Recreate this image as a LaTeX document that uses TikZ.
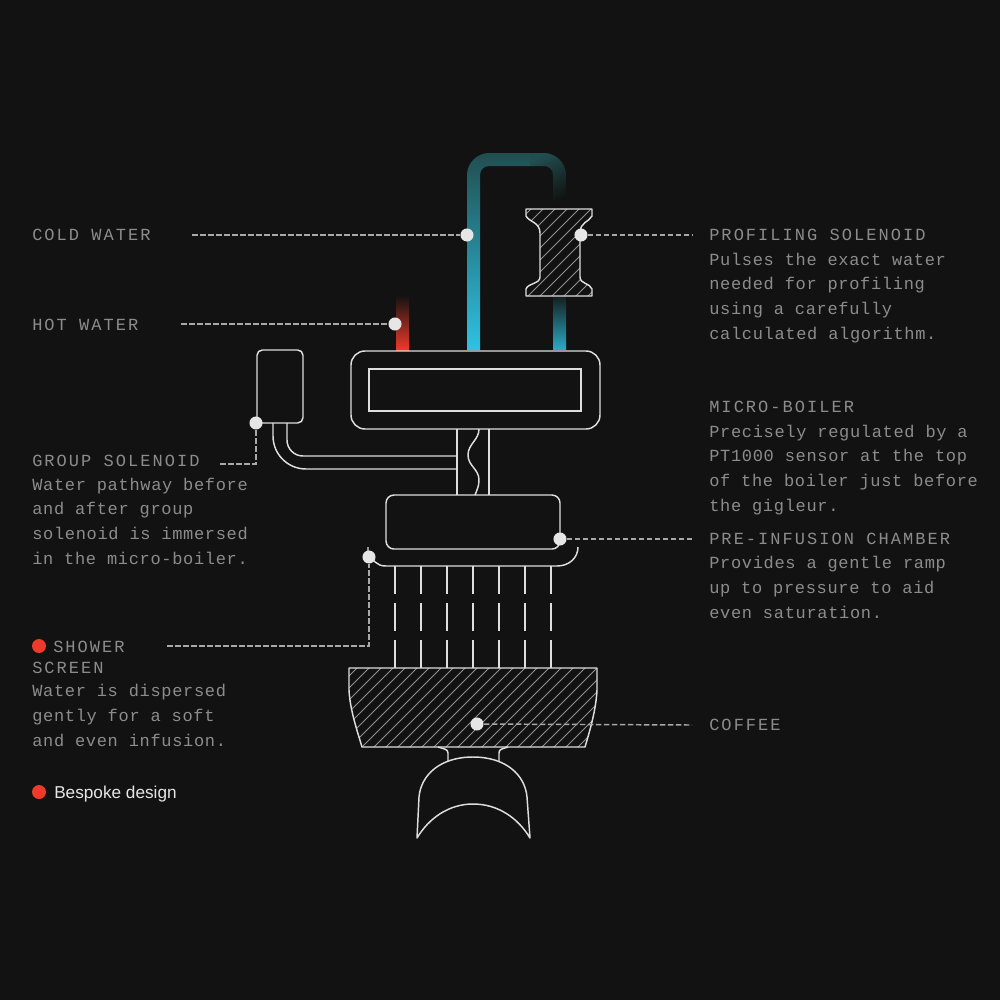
\documentclass[tikz,border=0pt]{standalone}
\usepackage{fontspec}
\setmainfont{Liberation Sans}
\newfontfamily\headfont[LetterSpace=12]{Liberation Mono}
\newfontfamily\bodyfont[LetterSpace=4]{Liberation Mono}
\definecolor{bg}{HTML}{121212}
\definecolor{linecol}{HTML}{DEDEDE}
\definecolor{hatchcol}{HTML}{909090}
\definecolor{txt}{HTML}{8C8C8C}
\definecolor{lead}{HTML}{A8A8A8}
\definecolor{dotcol}{HTML}{E6E6E6}
\definecolor{redc}{HTML}{EE3A2A}
\definecolor{cyanc}{HTML}{2FC2E3}
\definecolor{cyanb}{HTML}{2AA9C4}
\definecolor{teal}{HTML}{214E50}
\tikzset{
  outline/.style={draw=linecol,line width=1.1pt},
  hatchline/.style={draw=hatchcol,line width=0.75pt},
  leader/.style={draw=lead,line width=1.1pt,dash pattern=on 4.2pt off 1.8pt},
  dotmark/.style={circle,fill=dotcol,draw=none,minimum size=9.8pt,inner sep=0pt},
  reddot/.style={circle,fill=redc,draw=none,minimum size=10.5pt,inner sep=0pt},
  head/.style={anchor=base west,inner sep=0pt,text=txt,font=\headfont\fontsize{12.75pt}{16pt}\selectfont},
  body/.style={anchor=base west,inner sep=0pt,text=txt,align=left,font=\bodyfont\fontsize{12.75pt}{18.45pt}\selectfont},
  legend/.style={anchor=base west,inner sep=0pt,text=dotcol,font=\fontsize{12.9pt}{16pt}\selectfont}
}
\begin{document}
\begin{tikzpicture}[x=0.75pt,y=-0.75pt]
\useasboundingbox (0,0) rectangle (1000,1000);
\fill[bg] (0,0) rectangle (1000,1000);
% water pipes
\shade[bottom color=redc,top color=bg] (396,295) rectangle (409,350);
\shade[bottom color=cyanb,top color=bg!80!teal] (553,296) rectangle (566,349);
\shade[bottom color=cyanc,top color=teal]
  (467,350) -- (467,175) .. controls (467,163) and (477,153) .. (489,153) -- (530,153) -- (530,166)
  -- (489,166) .. controls (484,166) and (480,170) .. (480,175) -- (480,350) -- cycle;
\begin{scope}
\clip (530,153) -- (544,153) .. controls (556,153) and (566,163) .. (566,175) -- (566,206) -- (553,206)
  -- (553,175) .. controls (553,170) and (549,166) .. (544,166) -- (530,166) -- cycle;
\shade[top color=teal,bottom color=bg,shading angle=30] (530,153) rectangle (566,206);
\end{scope}
% solenoid
\begin{scope}
\clip (526,209) -- (592,209) -- (592,216) .. controls (589,222) and (580,222) .. (580,233)
  -- (580,277) .. controls (580,284) and (590,283) .. (592,289) -- (592,296) -- (526,296) -- (526,289)
  .. controls (528,283) and (540,284) .. (540,277) -- (540,233) .. controls (540,222) and (529,222) .. (526,216) -- cycle;
\foreach \k in {-6,...,8} {\draw[hatchline] ({500+\k*12},300) -- ({500+\k*12+100},200);}
\end{scope}
\draw[outline,line join=round] (526,209) -- (592,209) -- (592,216) .. controls (589,222) and (580,222) .. (580,233)
  -- (580,277) .. controls (580,284) and (590,283) .. (592,289) -- (592,296) -- (526,296) -- (526,289)
  .. controls (528,283) and (540,284) .. (540,277) -- (540,233) .. controls (540,222) and (529,222) .. (526,216) -- cycle;
% boiler
\draw[outline,rounded corners=10.5pt] (351,351) rectangle (600,429);
\draw[outline] (369,369) rectangle (581,411);
% group solenoid
\draw[outline,rounded corners=4pt] (257,350) rectangle (303,423);
\draw[outline] (273,423) -- (273,436) arc[start angle=180,end angle=90,radius=33] -- (457,469);
\draw[outline] (287,423) -- (287,440) arc[start angle=180,end angle=90,radius=16] -- (457,456);
% stem
\draw[outline] (457,429) -- (457,495);
\draw[outline] (489,429) -- (489,495);
\draw[outline] (479,429) .. controls (479,440) and (468,444) .. (468,455)
  .. controls (468,466) and (479,469) .. (479,480) .. controls (479,486) and (477,490) .. (475,495);
% chamber
\draw[outline,rounded corners=6pt] (386,495) rectangle (560,549);
% shower
\draw[outline] (368,547) -- (368,552) .. controls (373,560) and (376,566) .. (386,566) -- (557,566)
  .. controls (569,566) and (578,558) .. (578,547);
\foreach \x in {395,421,447,473,499,525,551} {
  \draw[outline] (\x,566) -- (\x,594);
  \draw[outline] (\x,603) -- (\x,631);
  \draw[outline] (\x,640) -- (\x,668);
}
% coffee
\begin{scope}
\clip (349,668) -- (597,668) -- (597,690) .. controls (596,710) and (590,730) .. (585,747) -- (362,747)
  .. controls (357,730) and (350,710) .. (349,690) -- cycle;
\foreach \k in {-1,...,28} {\draw[hatchline] ({255+\k*12},770) -- ({255+\k*12+130},640);}
\end{scope}
\draw[outline,line join=round] (349,668) -- (597,668) -- (597,690) .. controls (596,710) and (590,730) .. (585,747) -- (362,747)
  .. controls (357,730) and (350,710) .. (349,690) -- cycle;
% spout and cup
\draw[outline] (438,747) .. controls (444,749) and (448,749) .. (448,753) -- (448,761);
\draw[outline] (508,747) .. controls (502,749) and (499,749) .. (499,753) -- (499,761);
\draw[outline,line join=round] (417,838) -- (419,797) .. controls (421,775) and (440,757) .. (473,757)
  .. controls (506,757) and (525,775) .. (527,797) -- (530,838)
  .. controls (518,818) and (498,804) .. (473,804) .. controls (449,804) and (429,818) .. (417,838) -- cycle;
% markers
\node[dotmark] (dcold) at (467,235) {};
\node[dotmark] (dprof) at (581,235) {};
\node[dotmark] (dhot) at (395,324) {};
\node[dotmark] (dgroup) at (256,423) {};
\node[dotmark] (dpre) at (560,539) {};
\node[dotmark] (dshower) at (369,557) {};
\node[dotmark] (dcoffee) at (477,724) {};
\coordinate (ecold) at (192,235);
\coordinate (eprof) at (692,235);
\coordinate (ehot) at (181,324);
\coordinate (egroup) at (220,464);
\coordinate (epre) at (692,539);
\coordinate (eshower) at (167,646);
\coordinate (ecoffee) at (692,725);
\draw[leader] (ecold) -- (dcold);
\draw[leader] (dprof) -- (eprof);
\draw[leader] (ehot) -- (dhot);
\draw[leader] (egroup) -| (dgroup);
\draw[leader] (dpre) -- (epre);
\draw[leader] (eshower) -| (dshower);
\draw[leader] (dcoffee) -- (ecoffee);
% left labels
\node[head] (tcold) at (32,240) {COLD WATER};
\node[head] (thot) at (32,330) {HOT WATER};
\node[head] (tgroup) at (32,466) {GROUP SOLENOID};
\node[body] (bgroup) at (32,564) {Water pathway before\\and after group\\solenoid is immersed\\in the micro-boiler.};
\node[reddot] (rshower) at (39,646) {};
\node[head] (tshower) at (53,652) {SHOWER};
\node[head] (tscreen) at (32,673) {SCREEN};
\node[body] (bshower) at (32,746) {Water is dispersed\\gently for a soft\\and even infusion.};
\node[reddot] (rlegend) at (39,792) {};
\node[legend] (tlegend) at (54,798) {Bespoke design};
% right labels
\node[head] (tprof) at (709,240) {PROFILING SOLENOID};
\node[body] (bprof) at (709,339) {Pulses the exact water\\needed for profiling\\using a carefully\\calculated algorithm.};
\node[head] (tmicro) at (709,412) {MICRO-BOILER};
\node[body] (bmicro) at (709,511) {Precisely regulated by a\\PT1000 sensor at the top\\of the boiler just before\\the gigleur.};
\node[head] (tpre) at (709,544) {PRE-INFUSION CHAMBER};
\node[body] (bpre) at (709,618) {Provides a gentle ramp\\up to pressure to aid\\even saturation.};
\node[head] (tcoffee) at (709,730) {COFFEE};
\end{tikzpicture}
\end{document}
